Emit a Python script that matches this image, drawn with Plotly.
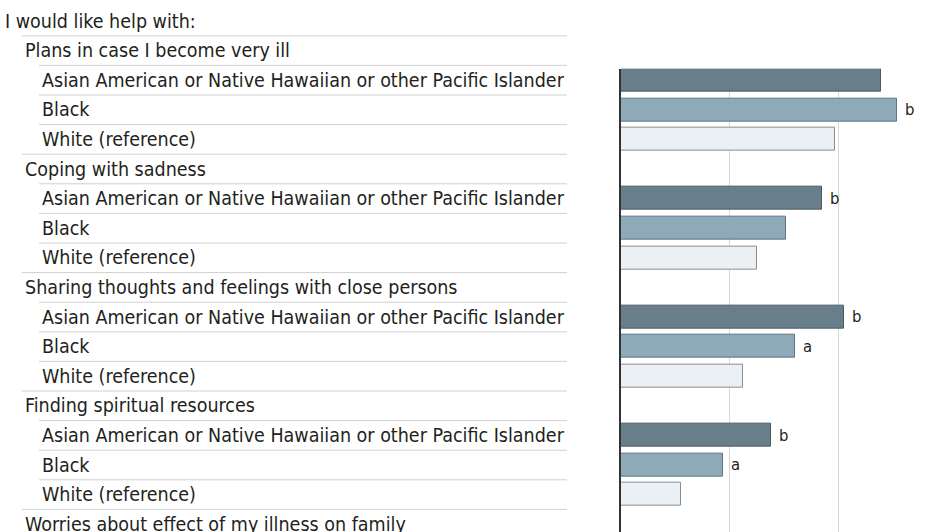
import plotly.graph_objects as go

# left-hand table rows, top to bottom (level = indent)
row_labels = [
    "I would like help with:",
    "Plans in case I become very ill",
    "Asian American or Native Hawaiian or other Pacific Islander",
    "Black",
    "White (reference)",
    "Coping with sadness",
    "Asian American or Native Hawaiian or other Pacific Islander",
    "Black",
    "White (reference)",
    "Sharing thoughts and feelings with close persons",
    "Asian American or Native Hawaiian or other Pacific Islander",
    "Black",
    "White (reference)",
    "Finding spiritual resources",
    "Asian American or Native Hawaiian or other Pacific Islander",
    "Black",
    "White (reference)",
    "Worries about effect of my illness on family",
]
row_levels = [0, 1, 2, 2, 2, 1, 2, 2, 2, 1, 2, 2, 2, 1, 2, 2, 2, 1]

# bar values (%) per topic
topics = ["Plans in case I become very ill", "Coping with sadness",
          "Sharing thoughts and feelings with close persons", "Finding spiritual resources"]
asian_pi = [47.9, 37.0, 41.1, 27.6]
black = [50.8, 30.4, 32.1, 18.8]
white = [39.4, 25.1, 22.5, 11.0]
asian_sig = ["", "b", "b", "b"]
black_sig = ["b", "", "a", "a"]

W, H = 948, 532
ROW0, PITCH = 21, 29.6   # pixel centre of first row, row spacing
indent = {0: 3, 1: 23, 2: 40}
FONT = "Liberation Sans Narrow, DejaVu Sans Condensed, Roboto"

def row_paper(i):
    return 1 - (ROW0 + PITCH * i) / H

# rows of the bars
y_asian = [2 + 4 * k for k in range(len(topics))]
y_black = [3 + 4 * k for k in range(len(topics))]
y_white = [4 + 4 * k for k in range(len(topics))]

fig = go.Figure()
fig.add_trace(go.Bar(x=asian_pi, y=y_asian, orientation="h", width=0.78,
                     marker=dict(color="#687f8b", line=dict(color="#4a5a64", width=1)),
                     name="Asian American or Native Hawaiian or other Pacific Islander"))
fig.add_trace(go.Bar(x=black, y=y_black, orientation="h", width=0.78,
                     marker=dict(color="#8eaab8", line=dict(color="#5e7582", width=1)),
                     name="Black"))
fig.add_trace(go.Bar(x=white, y=y_white, orientation="h", width=0.78,
                     marker=dict(color="#ebf0f4", line=dict(color="#8a8d90", width=1)),
                     name="White (reference)"))

annotations = []
shapes = []
for i, (lab, lev) in enumerate(zip(row_labels, row_levels)):
    annotations.append(dict(text=lab, xref="paper", yref="paper", x=indent[lev] / W, y=row_paper(i),
                            xanchor="left", yanchor="middle", showarrow=False,
                            font=dict(size=19.5, color="#231f20", family=FONT)))
    if i > 0:
        ysep = 1 - (ROW0 + PITCH * (i - 0.5)) / H
        shapes.append(dict(type="line", xref="paper", yref="paper",
                           x0=(indent[lev] - 1) / W, x1=567 / W, y0=ysep, y1=ysep,
                           line=dict(color="#d0d0d0", width=1)))

# significance letters next to bars
for vals, ys, sig in [(asian_pi, y_asian, asian_sig), (black, y_black, black_sig)]:
    for v, yy, s in zip(vals, ys, sig):
        if s:
            annotations.append(dict(text=s, x=v, y=yy, xref="x", yref="y", xanchor="left",
                                    yanchor="middle", xshift=6, showarrow=False,
                                    font=dict(size=16.5, color="#231f20", family=FONT)))

top_px = ROW0 + PITCH * 2 - 0.39 * PITCH
fig.update_layout(
    width=W, height=H, margin=dict(l=0, r=0, t=0, b=0),
    paper_bgcolor="white", plot_bgcolor="white",
    showlegend=False, bargap=0,
    # 60% gridline lands one pixel inside the right edge, as in the original
    xaxis=dict(domain=[621 / W, 1], range=[0, 60.18], dtick=20, showgrid=True,
               gridcolor="#d9d9d9", gridwidth=1, zeroline=False, showticklabels=False,
               ticks=""),
    yaxis=dict(domain=[0, 1 - top_px / H],
               range=[(H - ROW0) / PITCH, (top_px - ROW0) / PITCH],
               showgrid=False, zeroline=False, showticklabels=False, ticks="",
               showline=True, linecolor="#333333", linewidth=1.5),
    annotations=annotations, shapes=shapes,
)

# page body has an 8px default margin; drop it so the figure sits at the window corner
fig.write_html("out.html", config={"displayModeBar": False},
               post_script="document.body.style.margin='0';")
